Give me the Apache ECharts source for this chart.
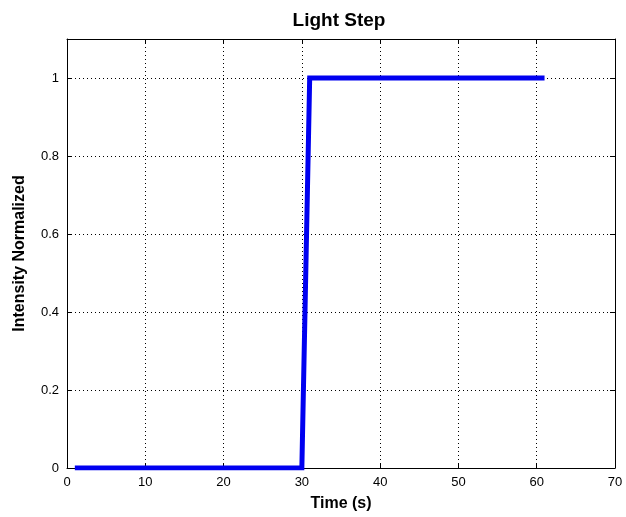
<!DOCTYPE html>
<html>
<head>
<meta charset="utf-8">
<script src="https://cdn.jsdelivr.net/npm/echarts@6/dist/echarts.min.js"></script>
<style>
  html, body { margin: 0; padding: 0; background: #fff; }
  #chart { width: 626px; height: 517px; }
</style>
</head>
<body>
<div id="chart"></div>
<script>
// Sample times (s) and normalized light intensity
const timeSeconds = [1,2,3,4,5,6,7,8,9,10,11,12,13,14,15,16,17,18,19,20,21,22,23,24,25,26,27,28,29,30,
  31,32,33,34,35,36,37,38,39,40,41,42,43,44,45,46,47,48,49,50,51,52,53,54,55,56,57,58,59,60,61];
const intensity = [0,0,0,0,0,0,0,0,0,0,0,0,0,0,0,0,0,0,0,0,0,0,0,0,0,0,0,0,0,0,
  1,1,1,1,1,1,1,1,1,1,1,1,1,1,1,1,1,1,1,1,1,1,1,1,1,1,1,1,1,1,1];

const titleText = 'Light Step';
const xName = 'Time (s)';
const yName = 'Intensity Normalized';

const points = timeSeconds.map((t, i) => [t, intensity[i]]);

const fontFamily = '"Liberation Sans", Arial, sans-serif';
const axisColor = '#000';

const chart = echarts.init(document.getElementById('chart'));

const gridSplit = () => ({ show: true, lineStyle: { color: '#000', type: [1, 3], width: 1 } });
const tickInside = () => ({ show: true, inside: true, length: 5, lineStyle: { color: axisColor } });
const boxLine = () => ({ show: true, onZero: false, lineStyle: { color: axisColor } });

chart.setOption({
  animation: false,
  backgroundColor: '#fff',
  title: {
    text: titleText,
    left: 334,
    textAlign: 'center',
    top: 6,
    textStyle: { fontFamily, fontWeight: 'bold', fontSize: 19, color: '#000' }
  },
  grid: { left: 67, right: 11, top: 39, bottom: 47, show: false },
  xAxis: [
    {
      type: 'value', min: 0, max: 70, interval: 10,
      name: xName, nameLocation: 'middle', nameGap: 28,
      nameTextStyle: { fontFamily, fontWeight: 'bold', fontSize: 16, color: '#000' },
      axisLine: boxLine(),
      axisTick: tickInside(),
      axisLabel: { fontFamily, fontSize: 13, color: '#000', margin: 8 },
      splitLine: gridSplit()
    },
    {
      type: 'value', min: 0, max: 70, interval: 10, position: 'top',
      axisLine: boxLine(),
      axisTick: tickInside(), axisLabel: { show: false }, splitLine: { show: false }
    }
  ],
  yAxis: [
    {
      type: 'value', min: 0, max: 1.1, interval: 0.2,
      name: yName, nameLocation: 'middle', nameGap: 39, nameRotate: 90,
      nameTextStyle: { fontFamily, fontWeight: 'bold', fontSize: 16, color: '#000' },
      axisLine: boxLine(),
      axisTick: tickInside(),
      axisLabel: {
        fontFamily, fontSize: 13, color: '#000', margin: 8,
        showMaxLabel: false,
        formatter: v => (v > 1.05 ? '' : String(Math.round(v * 10) / 10))
      },
      splitLine: gridSplit()
    },
    {
      type: 'value', min: 0, max: 1.1, interval: 0.2, position: 'right',
      axisLine: boxLine(),
      axisTick: tickInside(), axisLabel: { show: false }, splitLine: { show: false }
    }
  ],
  series: [
    {
      type: 'line',
      data: points,
      showSymbol: false,
      lineStyle: { color: '#0000f0', width: 5, join: 'miter' },
      itemStyle: { color: '#0000f0' }
    }
  ]
});
</script>
</body>
</html>
